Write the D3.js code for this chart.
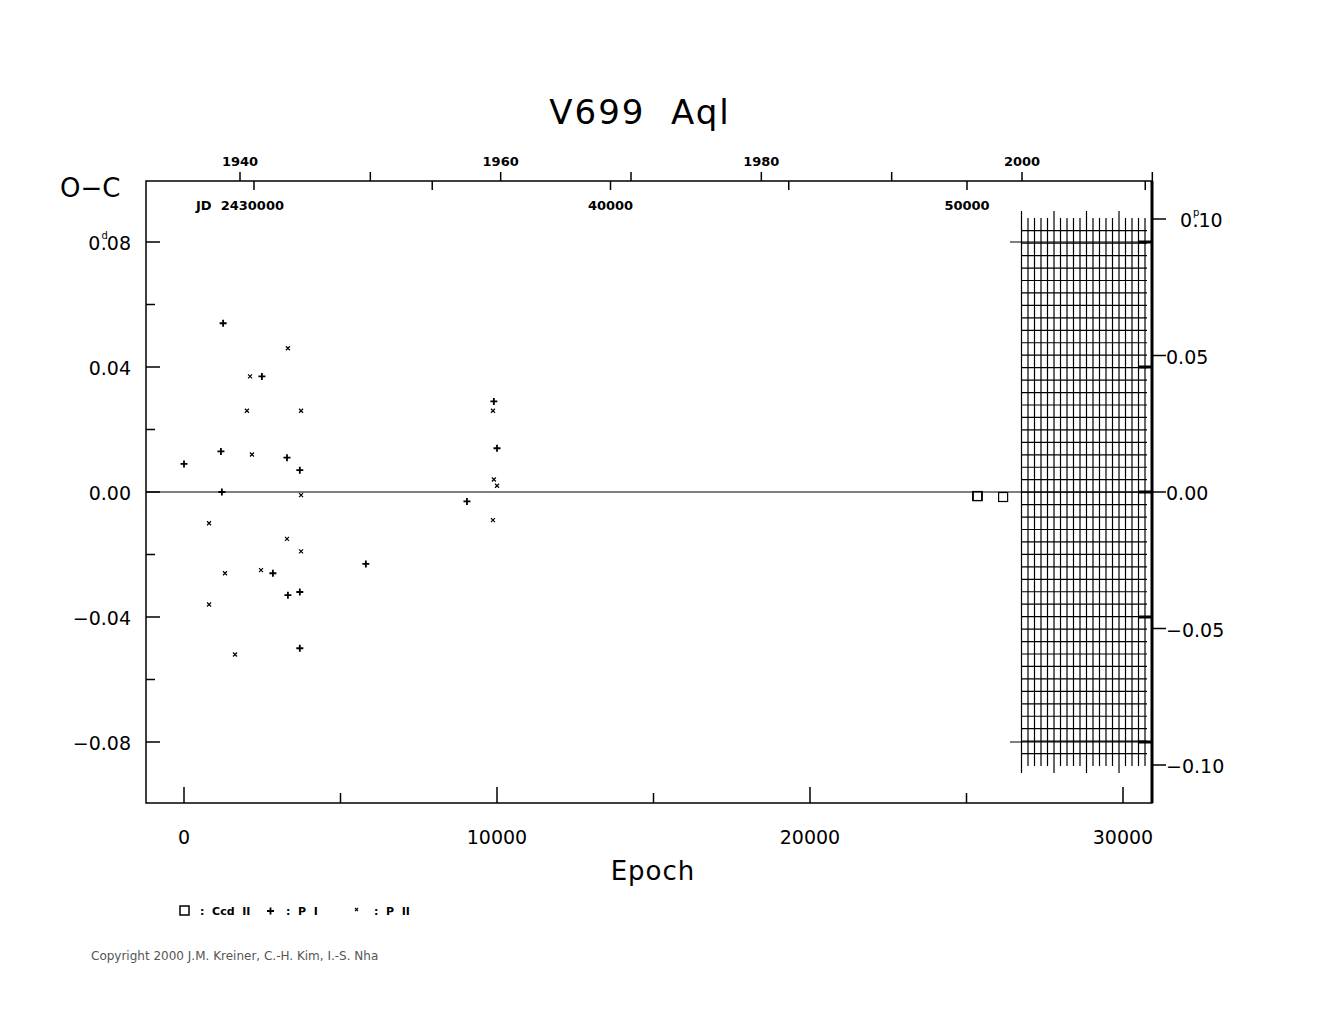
<!DOCTYPE html>
<html><head><meta charset="utf-8">
<script src="https://cdn.jsdelivr.net/npm/d3@7"></script>
<style>body{margin:0;background:#fff}text{font-family:"DejaVu Sans",sans-serif;fill:#000;white-space:pre}</style>
</head><body><svg id="c" width="1325" height="1020"></svg>
<script>
// data: [epoch, O-C days]
const ccdII = [[25340, -0.0013], [25360, -0.0013], [26170, -0.0016]];
const pI = [[1250, 0.054], [2490, 0.037], [1180, 0.013], [0, 0.009], [1210, 0.000], [3290, 0.011],
  [3700, 0.007], [2840, -0.026], [3320, -0.033], [3700, -0.032], [3700, -0.050], [5810, -0.023],
  [9040, -0.003], [9900, 0.029], [10000, 0.014]];
const pII = [[3320, 0.046], [2110, 0.037], [2010, 0.026], [3740, 0.026], [2170, 0.012], [3740, -0.001],
  [800, -0.010], [3290, -0.015], [3740, -0.019], [2460, -0.025], [1310, -0.026], [800, -0.036],
  [1630, -0.052], [9870, 0.026], [9900, 0.004], [10000, 0.002], [9870, -0.009]];
const epochTicks = [0, 10000, 20000, 30000];
const leftTicks = [0.08, 0.04, 0, -0.04, -0.08];
const rightTicks = [0.10, 0.05, 0, -0.05, -0.10];
const yearTicks = [1940, 1950, 1960, 1970, 1980, 1990, 2000, 2010];
const yearLabels = [1940, 1960, 1980, 2000];
const jdTicks = [30000, 35000, 40000, 45000, 50000, 55000];
const jdLabels = [[30000, 'JD  2430000'], [40000, '40000'], [50000, '50000']];

const L = 146, R = 1152, T = 181, B = 803;
const svg = d3.select('#c');
const x = d3.scaleLinear().domain([0, 10000]).range([184, 497]);
const y = d3.scaleLinear().domain([0, 0.04]).range([492, 367]);
const yR = d3.scaleLinear().domain([0, 0.10]).range([492, 219]);
const xYear = d3.scaleLinear().domain([1940, 2000]).range([240, 1022]);
const xJD = d3.scaleLinear().domain([30000, 50000]).range([254, 967]);

svg.append('text').attr('x', 640).attr('y', 124).attr('text-anchor', 'middle').attr('font-size', 34).attr('letter-spacing', 2).text('V699  Aql');

// grid block at right
const g = svg.append('g').attr('stroke', '#000').attr('stroke-width', 1.2);
d3.range(20).forEach(i => {
  const xx = 1021.5 + i * 6.5;
  const long = i % 5 === 0;
  g.append('line').attr('x1', xx).attr('x2', xx).attr('y1', long ? 211 : 218).attr('y2', long ? 773 : 766);
});
d3.range(43).forEach(i => {
  const yy = 230.7 + i * 12.45;
  g.append('line').attr('x1', 1021).attr('x2', 1147).attr('y1', yy).attr('y2', yy);
});
[0.08, -0.08].forEach(v => g.append('line').attr('x1', 1010).attr('x2', 1147).attr('y1', y(v)).attr('y2', y(v)));

// zero line
svg.append('line').attr('x1', L).attr('x2', R).attr('y1', y(0)).attr('y2', y(0)).attr('stroke', '#000').attr('stroke-width', 1.2);

// frame
svg.append('rect').attr('x', L).attr('y', T).attr('width', R - L).attr('height', B - T)
  .attr('fill', 'none').attr('stroke', '#000').attr('stroke-width', 1.5);
svg.append('line').attr('x1', R).attr('x2', R).attr('y1', T).attr('y2', B).attr('stroke', '#000').attr('stroke-width', 3);

const ax = svg.append('g').attr('stroke', '#000').attr('stroke-width', 1.5);
d3.range(-0.08, 0.0801, 0.02).forEach(v => {
  const major = Math.abs(Math.round(v * 100) % 4) === 0;
  ax.append('line').attr('x1', L).attr('x2', L + (major ? 14 : 9)).attr('y1', y(v)).attr('y2', y(v));
  if (major) ax.append('line').attr('x1', R).attr('x2', R - 14).attr('y1', y(v)).attr('y2', y(v)).attr('stroke-width', 3);
});
rightTicks.forEach(v => ax.append('line').attr('x1', R).attr('x2', R + 14).attr('y1', yR(v)).attr('y2', yR(v)));
d3.range(0, 30001, 5000).forEach(v => ax.append('line').attr('x1', x(v)).attr('x2', x(v)).attr('y1', B).attr('y2', B - (v % 10000 ? 10 : 16)));
yearTicks.forEach(v => ax.append('line').attr('x1', xYear(v)).attr('x2', xYear(v)).attr('y1', T).attr('y2', T - 9));
jdTicks.forEach(v => ax.append('line').attr('x1', xJD(v)).attr('x2', xJD(v)).attr('y1', T).attr('y2', T + 9));

const fmt = v => v === 0 ? '0.00' : (v < 0 ? '\u22120' : '0') + d3.format('.2f')(Math.abs(v)).slice(1);
epochTicks.forEach(v => svg.append('text').attr('x', x(v)).attr('y', 844).attr('text-anchor', 'middle').attr('font-size', 19).text(d3.format('d')(v)));

function supLabel(xp, yp, anchor, v, sup) {
  const t = svg.append('text').attr('x', xp).attr('y', yp).attr('text-anchor', anchor).attr('font-size', 19);
  const s = fmt(v);
  t.append('tspan').text(s.slice(0, 1));
  t.append('tspan').attr('font-size', 10).attr('dy', -11).attr('dx', 1).text(sup);
  t.append('tspan').attr('dy', 11).attr('dx', -7).text(s.slice(1));
}
leftTicks.forEach(v => {
  if (v === 0.08) supLabel(131, y(v) + 8, 'end', v, 'd');
  else svg.append('text').attr('x', 131).attr('y', y(v) + 8).attr('text-anchor', 'end').attr('font-size', 19).text(fmt(v));
});
rightTicks.forEach(v => {
  if (v === 0.10) supLabel(1180, yR(v) + 8, 'start', v, 'p');
  else svg.append('text').attr('x', 1166).attr('y', yR(v) + 8).attr('font-size', 19).text(fmt(v));
});
yearLabels.forEach(v => svg.append('text').attr('x', xYear(v)).attr('y', 166).attr('text-anchor', 'middle').attr('font-size', 13).attr('font-weight', 'bold').text(v));
jdLabels.forEach(([v, t]) => svg.append('text').attr('x', v === 30000 ? 196 : xJD(v)).attr('y', 210)
  .attr('text-anchor', v === 30000 ? 'start' : 'middle').attr('font-size', 13).attr('font-weight', 'bold').text(t));
svg.append('text').attr('x', 60).attr('y', 197).attr('font-size', 26).text('O\u2212C');
svg.append('text').attr('x', 653).attr('y', 880).attr('text-anchor', 'middle').attr('font-size', 26).attr('letter-spacing', 1).text('Epoch');

// marks
const m = svg.append('g').attr('stroke', '#000').attr('fill', 'none');
ccdII.forEach(d => m.append('rect').attr('x', x(d[0]) - 4.5).attr('y', y(d[1]) - 4.5).attr('width', 9).attr('height', 9).attr('stroke-width', 1.2));
pI.forEach(d => m.append('path').attr('d', `M${x(d[0]) - 3.5},${y(d[1])}h7M${x(d[0])},${y(d[1]) - 3.5}v7`).attr('stroke-width', 1.8));
pII.forEach(d => m.append('path').attr('d', `M${x(d[0]) - 2},${y(d[1]) - 2}l4,4M${x(d[0]) + 2},${y(d[1]) - 2}l-4,4`).attr('stroke-width', 1.2));

// legend
const lg = svg.append('g');
lg.append('rect').attr('x', 180).attr('y', 906).attr('width', 9).attr('height', 9).attr('fill', 'none').attr('stroke', '#000').attr('stroke-width', 1.5);
lg.append('text').attr('x', 200).attr('y', 915).attr('font-size', 11).attr('font-weight', 'bold').text(':  Ccd  II');
lg.append('path').attr('d', 'M267,911h7M270.5,907.5v7').attr('stroke', '#000').attr('stroke-width', 1.8);
lg.append('text').attr('x', 286).attr('y', 915).attr('font-size', 11).attr('font-weight', 'bold').text(':  P  I');
lg.append('path').attr('d', 'M355,908l3,3M358,908l-3,3').attr('stroke', '#000').attr('stroke-width', 1.1);
lg.append('text').attr('x', 374).attr('y', 915).attr('font-size', 11).attr('font-weight', 'bold').text(':  P  II');
svg.append('text').attr('x', 91).attr('y', 960).attr('font-size', 12).style('fill', '#555').text('Copyright 2000 J.M. Kreiner, C.-H. Kim, I.-S. Nha');
</script></body></html>
